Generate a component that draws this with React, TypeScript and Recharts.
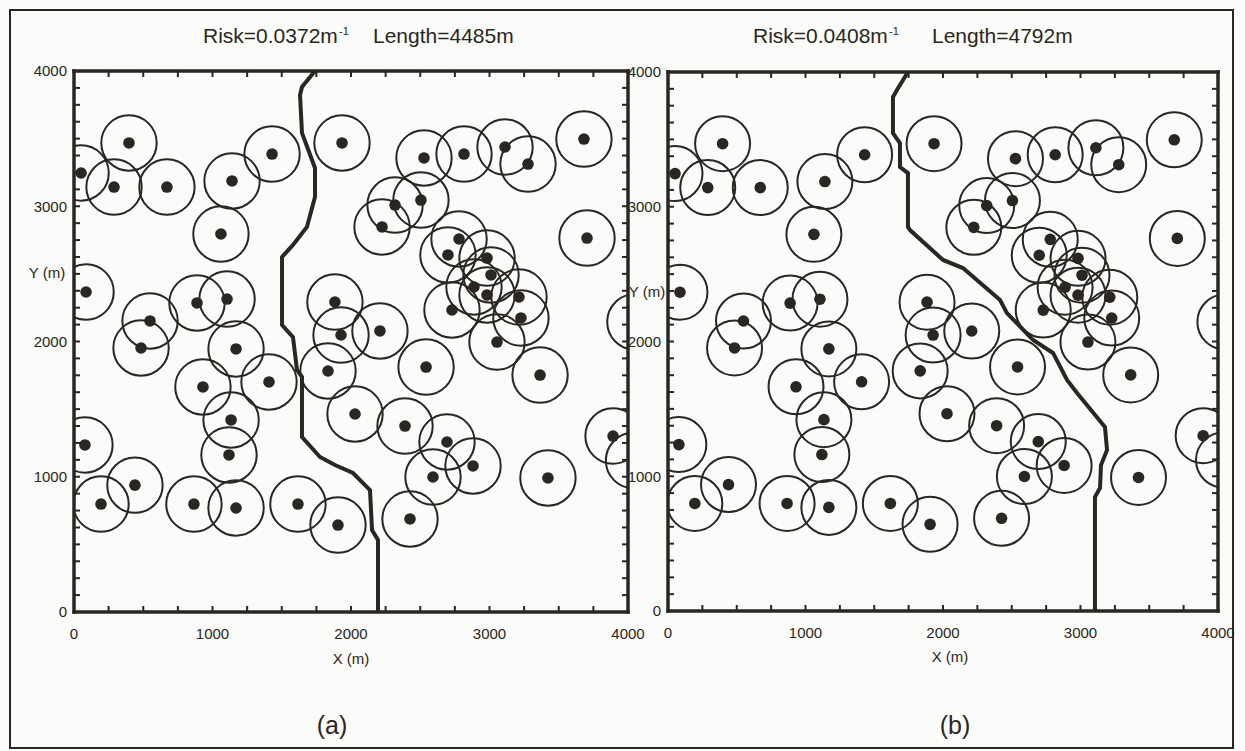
import React from "react";
import { ScatterChart, Scatter, XAxis, YAxis } from "recharts";

const INK = "#2a2622";
const PAPER = "#fbfbf9";
const FONT = "'Liberation Sans', Arial, Helvetica, sans-serif";

// sensor sites (m), the same in both panels
const siteX = [
  51, 397, 289, 671, 1141, 1061, 1430, 1935, 2318, 2224, 2527, 2816, 3112, 3278, 3682,
  2505, 2780, 3704, 87, 549, 484, 888, 1105, 1170, 931, 1408, 1134, 1119, 79, 1884,
  1928, 2209, 1834, 2029, 2390, 2700, 2982, 3011, 2888, 2982, 3213, 3227, 2729, 3054, 2542,
  3365, 3892, 2693, 2881, 2592, 3422, 440, 195, 866, 1170, 1617, 1906, 2426, 4050, 4040,
];
const siteY = [
  3246, 3468, 3142, 3142, 3187, 2795, 3386, 3468, 3009, 2847, 3357, 3386, 3438, 3312, 3497,
  3046, 2758, 2765, 2366, 2152, 1952, 2285, 2314, 1945, 1664, 1701, 1420, 1161, 1235, 2292,
  2048, 2078, 1782, 1464, 1375, 2640, 2617, 2492, 2403, 2344, 2329, 2174, 2233, 1996, 1811,
  1752, 1301, 1257, 1080, 998, 991, 938, 798, 798, 769, 798, 643, 688, 2145, 1120,
];

// crossing path (a)
const routeAX = [1740, 1646, 1632, 1646, 1740, 1740, 1682, 1581, 1502, 1502, 1581, 1610, 1646, 1646, 1776, 1884, 2014, 2137, 2152, 2195, 2195];
const routeAY = [4000, 3882, 3823, 3542, 3283, 3068, 2847, 2714, 2625, 2122, 2033, 1789, 1738, 1294, 1146, 1087, 1028, 902, 606, 532, 0];

// crossing path (b)
const routeBX = [1745, 1665, 1636, 1636, 1687, 1687, 1745, 1745, 1760, 2000, 2145, 2415, 2465, 2655, 2800, 2902, 2975, 3178, 3193, 3149, 3142, 3105, 3105];
const routeBY = [4000, 3866, 3814, 3547, 3473, 3295, 3250, 2850, 2827, 2605, 2545, 2308, 2211, 2011, 1915, 1714, 1618, 1365, 1195, 1083, 913, 846, 0];

const xMinorTicks = [0, 250, 500, 750, 1000, 1250, 1500, 1750, 2000, 2250, 2500, 2750, 3000, 3250, 3500, 3750, 4000];
const yMinorTicks = [
  0, 125, 250, 375, 500, 625, 750, 875, 1000, 1125, 1250, 1375, 1500, 1625, 1750, 1875, 2000,
  2125, 2250, 2375, 2500, 2625, 2750, 2875, 3000, 3125, 3250, 3375, 3500, 3625, 3750, 3875, 4000,
];
const labelTicks = [0, 1000, 2000, 3000, 4000];

const SITE_RADIUS_M = 200;
const DOMAIN_MAX = 4000;

const sites = siteX.map((x, i) => ({ x, y: siteY[i] }));
const routeA = routeAX.map((x, i) => ({ x, y: routeAY[i] }));
const routeB = routeBX.map((x, i) => ({ x, y: routeBY[i] }));

// tick lines point into the plot; drawn here so their direction is under our control
const TS = 2; // axis tickSize (line itself hidden)
const TICK_LEN = 6;
const tickStroke = { stroke: INK, strokeWidth: 2 };

const BottomTick = (props: any) => {
  const { x, y, payload } = props;
  const axisY = y - TS - 14;
  return (
    <g>
      <line x1={x} x2={x} y1={axisY} y2={axisY - TICK_LEN} {...tickStroke} />
      {labelTicks.includes(payload.value) && (
        <text x={x} y={y} dy="0.71em" textAnchor="middle" fontSize={15} fontFamily={FONT} fill={INK}>
          {payload.value}
        </text>
      )}
    </g>
  );
};

const LeftTick = (props: any) => {
  const { x, y, payload } = props;
  const axisX = x + TS + 3;
  return (
    <g>
      <line x1={axisX} x2={axisX + TICK_LEN} y1={y} y2={y} {...tickStroke} />
      {labelTicks.includes(payload.value) && (
        <text x={x - 2} y={y} dy="0.36em" textAnchor="end" fontSize={15} fontFamily={FONT} fill={INK}>
          {payload.value}
        </text>
      )}
    </g>
  );
};

const TopTick = (props: any) => {
  const { x, y } = props;
  const axisY = y + TS;
  return <line x1={x} x2={x} y1={axisY} y2={axisY + TICK_LEN} {...tickStroke} />;
};

const RightTick = (props: any) => {
  const { x, y } = props;
  const axisX = x - TS;
  return <line x1={axisX} x2={axisX - TICK_LEN} y1={y} y2={y} {...tickStroke} />;
};

const Blank = () => <g />;

const siteShape = (r: number) => (props: any) => {
  const { cx, cy } = props;
  if (cx == null || cy == null) return <g />;
  return (
    <g>
      <circle cx={cx} cy={cy} r={r} fill="none" stroke={INK} strokeWidth={2} />
      <circle cx={cx} cy={cy} r={5.8} fill={INK} />
    </g>
  );
};

const axisLine = { stroke: INK, strokeWidth: 3.5, strokeLinecap: "square" as const };

type Panel = {
  left: number;
  width: number;
  height: number;
  margin: { top: number; right: number; bottom: number; left: number };
  plotWidth: number;
  route: { x: number; y: number }[];
};

const panels: Panel[] = [
  { left: 0, width: 660, height: 700, margin: { top: 69, right: 30, bottom: 48, left: 14 }, plotWidth: 554, route: routeA },
  { left: 600, width: 645, height: 700, margin: { top: 70, right: 25, bottom: 49, left: 8 }, plotWidth: 550, route: routeB },
];

const Field = ({ p }: { p: Panel }) => {
  const r = (SITE_RADIUS_M * p.plotWidth) / DOMAIN_MAX;
  return (
    <div style={{ position: "absolute", left: p.left, top: 0 }}>
      <ScatterChart width={p.width} height={p.height} margin={p.margin}>
        <XAxis
          type="number"
          dataKey="x"
          domain={[0, DOMAIN_MAX]}
          allowDataOverflow
          ticks={xMinorTicks}
          interval={0}
          height={40}
          tickSize={TS}
          tickMargin={14}
          tick={BottomTick}
          tickLine={false}
          axisLine={axisLine}
        />
        <XAxis
          xAxisId="top"
          orientation="top"
          type="number"
          dataKey="x"
          domain={[0, DOMAIN_MAX]}
          allowDataOverflow
          ticks={xMinorTicks}
          interval={0}
          height={2}
          tickSize={TS}
          tickMargin={0}
          tick={TopTick}
          tickLine={false}
          axisLine={axisLine}
        />
        <YAxis
          type="number"
          dataKey="y"
          domain={[0, DOMAIN_MAX]}
          allowDataOverflow
          ticks={yMinorTicks}
          interval={0}
          width={60}
          tickSize={TS}
          tickMargin={3}
          tick={LeftTick}
          tickLine={false}
          axisLine={axisLine}
        />
        <YAxis
          yAxisId="right"
          orientation="right"
          type="number"
          dataKey="y"
          domain={[0, DOMAIN_MAX]}
          allowDataOverflow
          ticks={yMinorTicks}
          interval={0}
          width={2}
          tickSize={TS}
          tickMargin={0}
          tick={RightTick}
          tickLine={false}
          axisLine={axisLine}
        />
        <Scatter data={sites} shape={siteShape(r)} isAnimationActive={false} />
        <Scatter
          data={p.route}
          line={{ stroke: INK, strokeWidth: 4 }}
          shape={Blank}
          isAnimationActive={false}
        />
      </ScatterChart>
    </div>
  );
};

const txt = { fontFamily: FONT, fill: INK };

export default function App() {
  return (
    <div style={{ position: "absolute", left: 0, top: 0, width: 1245, height: 751, background: PAPER, overflow: "hidden" }}>
      {panels.map((p, i) => (
        <Field key={i} p={p} />
      ))}
      <svg width={1245} height={751} style={{ position: "absolute", left: 0, top: 0, pointerEvents: "none" }}>
        <rect x={10} y={10} width={1223} height={738} fill="none" stroke={INK} strokeWidth={2} />

        <text x={203} y={43} fontSize={21} {...txt}>Risk=0.0372m</text>
        <text x={339} y={35} fontSize={11} {...txt}>-1</text>
        <text x={373} y={43} fontSize={21} {...txt}>Length=4485m</text>

        <text x={753} y={43} fontSize={21} {...txt}>Risk=0.0408m</text>
        <text x={889} y={35} fontSize={11} {...txt}>-1</text>
        <text x={932} y={43} fontSize={21} {...txt}>Length=4792m</text>

        <text x={47} y={273} dy="0.36em" textAnchor="middle" fontSize={15} {...txt}>Y (m)</text>
        <text x={647} y={292} dy="0.36em" textAnchor="middle" fontSize={15} {...txt}>Y (m)</text>

        <text x={351} y={659} dy="0.36em" textAnchor="middle" fontSize={15} {...txt}>X (m)</text>
        <text x={950} y={657} dy="0.36em" textAnchor="middle" fontSize={15} {...txt}>X (m)</text>

        <text x={332} y={725} dy="0.36em" textAnchor="middle" fontSize={25} {...txt}>(a)</text>
        <text x={955} y={725} dy="0.36em" textAnchor="middle" fontSize={25} {...txt}>(b)</text>
      </svg>
    </div>
  );
}
